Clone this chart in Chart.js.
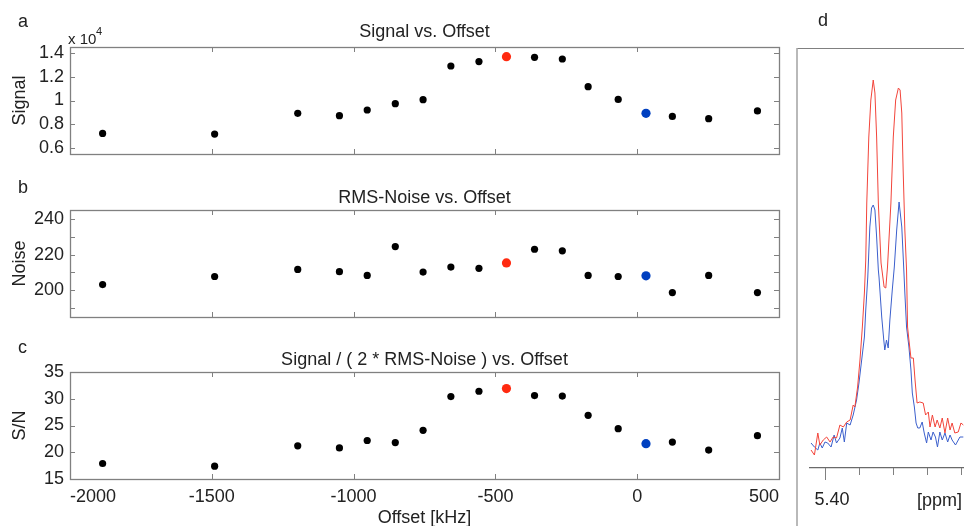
<!DOCTYPE html>
<html>
<head>
<meta charset="utf-8">
<script src="https://cdn.jsdelivr.net/npm/chart.js@4.4.0/dist/chart.umd.min.js"></script>
<style>
  html, body { margin: 0; padding: 0; background: #fff; }
  #wrap { position: relative; width: 964px; height: 526px; }
  #wrap canvas { position: absolute; left: 0; top: 0; }
</style>
</head>
<body>
<div id="wrap">
  <canvas id="chartA" width="964" height="526"></canvas>
  <canvas id="chartB" width="964" height="526"></canvas>
  <canvas id="chartC" width="964" height="526"></canvas>
  <canvas id="chartD" width="964" height="526"></canvas>
</div>
<script>
// offsets in kHz, one per measurement
var offsets = [-1885, -1490, -1197, -1050, -952, -853, -755, -657, -558, -461, -362, -264, -173, -67, 31, 124, 252, 424];
var signal = [7230, 7180, 8920, 8720, 9200, 9730, 10070, 12900, 13270, 13690, 13630, 13490, 11160, 10090, 8920, 8660, 8470, 9120];
var noise = [203.2, 207.7, 211.7, 210.4, 208.3, 224.5, 210.2, 213.0, 212.3, 215.3, 223.0, 222.1, 208.3, 207.7, 208.1, 198.7, 208.3, 198.7];
var snr = [17.9, 17.4, 21.2, 20.8, 22.2, 21.8, 24.1, 30.4, 31.4, 31.9, 30.6, 30.5, 26.9, 24.4, 21.6, 21.9, 20.4, 23.1];
var redIdx = 9;
var blueIdx = 14;

var offsetTicks = [-2000, -1500, -1000, -500, 0, 500];
var signalTicks = [6000, 8000, 10000, 12000, 14000];
var noiseTicks = [190, 200, 210, 220, 230, 240];
var snrTicks = [15, 20, 25, 30, 35];

// spectrum (panel d)
var ppmRed = [5.4041, 5.4031, 5.4021, 5.4015, 5.4005, 5.3995, 5.3985, 5.3976, 5.3966, 5.3956, 5.3946, 5.3936, 5.3926, 5.3917, 5.3912, 5.3904, 5.3897, 5.3890, 5.3884, 5.3880, 5.3877, 5.3871, 5.3865, 5.3858, 5.3853, 5.3848, 5.3843, 5.3835, 5.3826, 5.3821, 5.3816, 5.3806, 5.3799, 5.3792, 5.3784, 5.3779, 5.3774, 5.3770, 5.3765, 5.3760, 5.3757, 5.3753, 5.3747, 5.3740, 5.3735, 5.3729, 5.3721, 5.3711, 5.3704, 5.3696, 5.3691, 5.3684, 5.3676, 5.3670, 5.3662, 5.3655, 5.3647, 5.3639, 5.3632, 5.3626, 5.3618, 5.3608, 5.3600, 5.3593];
var intRed = [18, 13, 35, 23, 28, 31, 26, 31, 30, 43, 41, 46, 48, 63, 61, 81, 108, 141, 175, 208, 265, 331, 368, 388, 375, 331, 265, 205, 181, 180, 201, 265, 331, 368, 380, 378, 355, 298, 238, 198, 141, 128, 110, 110, 88, 65, 66, 65, 53, 56, 41, 53, 41, 48, 40, 50, 35, 50, 38, 45, 35, 36, 45, 43];
var ppmBlue = [5.4041, 5.4031, 5.4021, 5.4015, 5.4008, 5.4000, 5.3992, 5.3982, 5.3973, 5.3966, 5.3956, 5.3949, 5.3943, 5.3936, 5.3926, 5.3917, 5.3907, 5.3900, 5.3892, 5.3884, 5.3880, 5.3874, 5.3868, 5.3863, 5.3858, 5.3853, 5.3848, 5.3843, 5.3841, 5.3833, 5.3827, 5.3824, 5.3819, 5.3814, 5.3809, 5.3802, 5.3796, 5.3789, 5.3782, 5.3774, 5.3768, 5.3765, 5.3760, 5.3753, 5.3747, 5.3743, 5.3737, 5.3732, 5.3727, 5.3721, 5.3714, 5.3708, 5.3701, 5.3696, 5.3688, 5.3682, 5.3675, 5.3669, 5.3662, 5.3655, 5.3647, 5.3639, 5.3632, 5.3626, 5.3616, 5.3603, 5.3593];
var intBlue = [25, 21, 18, 25, 20, 26, 25, 21, 33, 25, 30, 40, 26, 45, 43, 53, 68, 85, 108, 131, 158, 191, 241, 260, 263, 258, 231, 198, 191, 151, 128, 118, 128, 120, 148, 178, 201, 238, 266, 241, 198, 175, 141, 121, 98, 75, 61, 45, 40, 40, 46, 35, 25, 36, 28, 36, 31, 21, 36, 28, 35, 26, 33, 28, 23, 31, 31];
var ppmTicks = [5.40, 5.39, 5.38, 5.37, 5.36];

var FONT = 'Liberation Sans, Arial, sans-serif';
var TEXT = '#222';
var BOX = '#808080';

function setTicks(list) {
  return function (scale) {
    scale.ticks = list.map(function (v) { return { value: v }; });
  };
}

// box, inner ticks and free texts
var decorPlugin = {
  id: 'decor',
  beforeDatasetsDraw: function (chart, args, opts) {
    var ctx = chart.ctx, a = chart.chartArea;
    ctx.save();
    ctx.strokeStyle = BOX;
    ctx.lineWidth = 1;
    if (opts.box) {
      var x = chart.scales.x, y = chart.scales.y, len = 5;
      ctx.beginPath();
      x.ticks.forEach(function (t) {
        var px = Math.round(x.getPixelForValue(t.value)) + 0.5;
        ctx.moveTo(px, a.top); ctx.lineTo(px, a.top + len);
        ctx.moveTo(px, a.bottom); ctx.lineTo(px, a.bottom - len);
      });
      y.ticks.forEach(function (t) {
        var py = Math.round(y.getPixelForValue(t.value)) + 0.5;
        ctx.moveTo(a.left, py); ctx.lineTo(a.left + len, py);
        ctx.moveTo(a.right, py); ctx.lineTo(a.right - len, py);
      });
      ctx.stroke();
      ctx.lineWidth = 1.3;
      ctx.strokeRect(Math.round(a.left) + 0.5, Math.round(a.top) + 0.5, Math.round(a.width), Math.round(a.height));
    }
    if (opts.spectrum) {
      var sx = chart.scales.x;
      ctx.beginPath();
      sx.ticks.forEach(function (t) {
        var px = Math.round(sx.getPixelForValue(t.value)) + 0.5;
        ctx.moveTo(px, a.bottom);
        ctx.lineTo(px, a.bottom + (t.major ? 12 : 7));
      });
      ctx.stroke();
      ctx.beginPath();
      ctx.moveTo(opts.frameLeft, Math.round(a.top) + 0.5);
      ctx.lineTo(chart.width, Math.round(a.top) + 0.5);
      ctx.stroke();
      ctx.strokeStyle = '#a8a8a8';
      ctx.lineWidth = 1.6;
      ctx.beginPath();
      ctx.moveTo(opts.frameLeft, a.top);
      ctx.lineTo(opts.frameLeft, chart.height);
      ctx.stroke();
    }
    ctx.restore();
  },
  afterDraw: function (chart, args, opts) {
    var ctx = chart.ctx, a = chart.chartArea;
    ctx.save();
    ctx.fillStyle = TEXT;
    ctx.textBaseline = 'alphabetic';
    (opts.texts || []).forEach(function (t) {
      ctx.font = (t.size || 18) + 'px ' + FONT;
      if (t.center) {
        ctx.textAlign = 'center';
        ctx.fillText(t.text, (a.left + a.right) / 2, t.y);
      } else {
        ctx.textAlign = 'left';
        ctx.fillText(t.text, t.x, t.y);
      }
    });
    ctx.restore();
  }
};

function makePanel(id, values, yMin, yMax, yTicks, yLabel, yTitle, top, bottom, withX, texts) {
  var pts = offsets.map(function (x, i) { return { x: x, y: values[i] }; });
  return new Chart(document.getElementById(id), {
    type: 'scatter',
    data: {
      datasets: [{
        data: pts,
        pointRadius: function (c) { return (c.dataIndex === redIdx || c.dataIndex === blueIdx) ? 4.6 : 3.6; },
        pointBackgroundColor: function (c) {
          if (c.dataIndex === redIdx) return '#ff2a10';
          if (c.dataIndex === blueIdx) return '#0040c0';
          return '#000';
        },
        pointBorderWidth: 0
      }]
    },
    options: {
      responsive: false,
      animation: false,
      layout: { padding: { left: 0, right: 185, top: top, bottom: withX ? 0 : 526 - bottom } },
      plugins: {
        legend: { display: false },
        tooltip: { enabled: false },
        decor: { box: true, texts: texts }
      },
      scales: {
        x: {
          type: 'linear',
          min: -2000,
          max: 500,
          afterBuildTicks: setTicks(offsetTicks),
          afterFit: function (s) { s.height = withX ? 526 - bottom : 0; },
          grid: { display: false, drawTicks: false },
          border: { display: false },
          ticks: {
            display: withX,
            align: 'inner',
            padding: 7,
            maxRotation: 0,
            color: TEXT,
            font: { family: FONT, size: 18 },
            callback: function (v) { return String(v); }
          },
          title: {
            display: withX,
            text: 'Offset [kHz]',
            color: TEXT,
            font: { family: FONT, size: 18 },
            padding: { top: 0, bottom: -3 }
          }
        },
        y: {
          min: yMin,
          max: yMax,
          afterBuildTicks: setTicks(yTicks),
          afterFit: function (s) { s.width = 70; },
          grid: { display: false, drawTicks: false },
          border: { display: false },
          ticks: {
            autoSkip: false,
            padding: 6,
            color: TEXT,
            font: { family: FONT, size: 18 },
            callback: yLabel
          },
          title: {
            display: true,
            text: yTitle,
            color: TEXT,
            font: { family: FONT, size: 18 },
            padding: { top: 9, bottom: 0 }
          }
        }
      }
    },
    plugins: [decorPlugin]
  });
}

makePanel('chartA', signal, 5500, 14500, signalTicks,
  function (v) { return String(v / 10000); }, 'Signal', 47, 154, false,
  [{ text: 'a', x: 18, y: 27 }, { text: 'Signal vs. Offset', center: true, y: 37 },
   { text: 'x 10', x: 68, y: 44, size: 15 }, { text: '4', x: 96, y: 35, size: 11 }]);

makePanel('chartB', noise, 185, 245, noiseTicks,
  function (v) { return v % 20 === 0 ? String(v) : ''; }, 'Noise', 210, 317, false,
  [{ text: 'b', x: 18, y: 193 }, { text: 'RMS-Noise vs. Offset', center: true, y: 203 }]);

makePanel('chartC', snr, 15, 35, snrTicks,
  function (v) { return String(v); }, 'S/N', 372, 479, true,
  [{ text: 'c', x: 18, y: 353 }, { text: 'Signal / ( 2 * RMS-Noise ) vs. Offset', center: true, y: 365 }]);

new Chart(document.getElementById('chartD'), {
  type: 'scatter',
  data: {
    datasets: [
      {
        data: ppmRed.map(function (x, i) { return { x: x, y: intRed[i] }; }),
        showLine: true,
        borderColor: '#f2443a',
        borderWidth: 1,
        pointRadius: 0,
        tension: 0
      },
      {
        data: ppmBlue.map(function (x, i) { return { x: x, y: intBlue[i] }; }),
        showLine: true,
        borderColor: '#3b5fcc',
        borderWidth: 1,
        pointRadius: 0,
        tension: 0
      }
    ]
  },
  options: {
    responsive: false,
    animation: false,
    layout: { padding: { left: 810, right: 0, top: 48, bottom: 0 } },
    plugins: {
      legend: { display: false },
      tooltip: { enabled: false },
      decor: {
        spectrum: true,
        frameLeft: 797,
        texts: [{ text: 'd', x: 818, y: 26 }, { text: '[ppm]', x: 917, y: 506 }]
      }
    },
    scales: {
      x: {
        type: 'linear',
        reverse: true,
        min: 5.3591,
        max: 5.4044,
        afterBuildTicks: function (s) {
          s.ticks = ppmTicks.map(function (v, i) { return { value: v, major: i === 0 }; });
        },
        afterFit: function (s) { s.height = 58; s.paddingLeft = 0; s.paddingRight = 0; },
        grid: { display: false, drawTicks: false },
        border: { display: true, color: '#6a6a6a', width: 1.3 },
        ticks: {
          autoSkip: false,
          maxRotation: 0,
          minRotation: 0,
          padding: 21,
          labelOffset: 7,
          color: TEXT,
          font: { family: FONT, size: 18 },
          callback: function (v) { return Math.abs(v - 5.40) < 1e-6 ? '5.40' : ''; }
        }
      },
      y: { display: false, min: 0, max: 420 }
    }
  },
  plugins: [decorPlugin]
});
</script>
</body>
</html>
